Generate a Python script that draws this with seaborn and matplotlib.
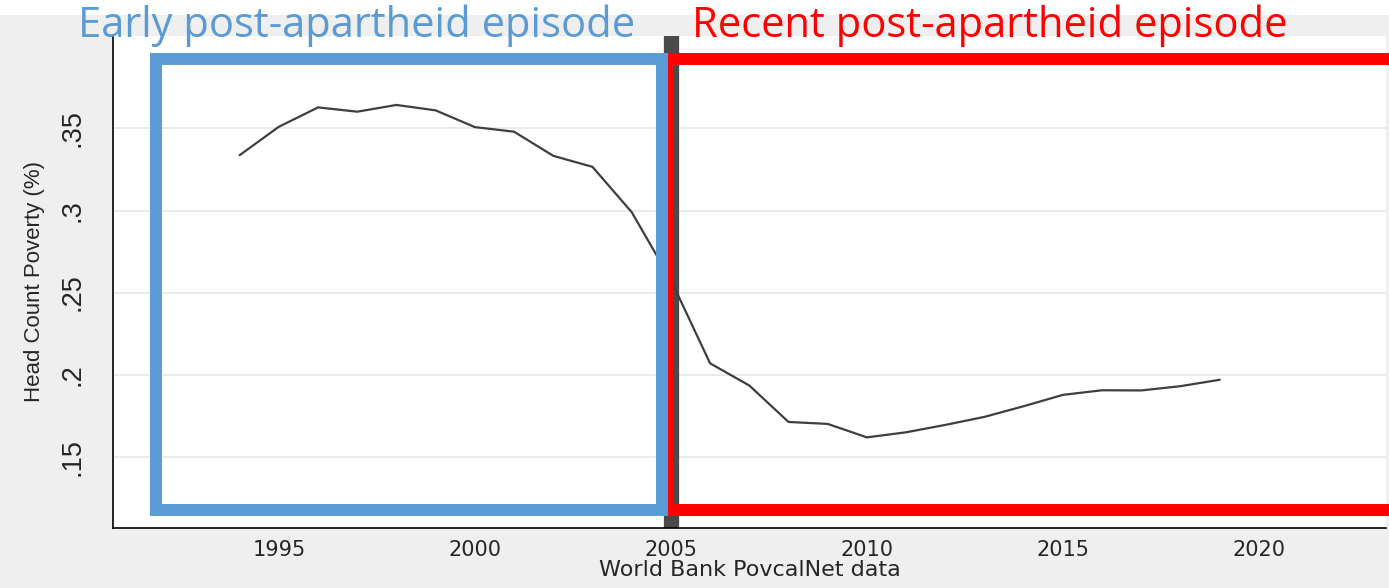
import matplotlib
matplotlib.use('Agg')
import matplotlib.pyplot as plt
from matplotlib.patches import Rectangle
import seaborn as sns

# Data
years = list(range(1994, 2020))
poverty = [0.3337, 0.3510, 0.3628, 0.3602, 0.3643, 0.3610, 0.3508, 0.3480,
           0.3333, 0.3266, 0.2990, 0.2577, 0.2069, 0.1934, 0.1712, 0.1700,
           0.1618, 0.1649, 0.1694, 0.1743, 0.1808, 0.1877, 0.1905, 0.1904,
           0.1930, 0.1969]
ytick_vals = [0.15, 0.20, 0.25, 0.30, 0.35]
ytick_labels = ['.15', '.2', '.25', '.3', '.35']
xtick_vals = [1995, 2000, 2005, 2010, 2015, 2020]
split_year = 2005

sns.set_style('white')
plt.rcParams['font.family'] = ['DejaVu Sans']

fig = plt.figure(figsize=(13.89, 5.88), dpi=100, facecolor='#efefef')
# white strip at the very top (slide background)
fig.patches.append(Rectangle((0, 1 - 15 / 588), 1, 15 / 588, transform=fig.transFigure,
                             facecolor='white', edgecolor='none', zorder=0))

ax = fig.add_axes([113 / 1389, 1 - 528 / 588, (1386 - 113) / 1389, (528 - 36) / 588])
ax.set_facecolor('white')

# grid
for v in ytick_vals:
    ax.axhline(v, color='#eaeaea', lw=1.4, zorder=0)

# dark vertical marker at the split year
ax.axvline(split_year, color='#4a4a4a', lw=11, zorder=1)

sns.lineplot(x=years, y=poverty, color='#3f3f3f', lw=1.6, ax=ax, zorder=2)

ax.set_xlim(1990.77, 2023.24)
ax.set_ylim(0.1066, 0.4063)

ax.set_yticks(ytick_vals)
ax.set_yticklabels(ytick_labels, rotation=90, va='center',
                   family='Liberation Sans', fontsize=19.5)
ax.set_xticks(xtick_vals)
ax.set_xticklabels([str(x) for x in xtick_vals], fontsize=15)
ax.tick_params(axis='y', length=10, width=1, color='#333333', pad=10)
ax.tick_params(axis='x', length=6, width=1, color='#333333', pad=3)

for s in ['top', 'right']:
    ax.spines[s].set_visible(False)
for s in ['left', 'bottom']:
    ax.spines[s].set_color('black')
    ax.spines[s].set_linewidth(1.2)

ax.set_ylabel('Head Count Poverty (%)', family='Liberation Sans', fontsize=16, labelpad=10)
ax.set_xlabel('World Bank PovcalNet data', fontsize=16, labelpad=0)

# episode boxes
red_box = Rectangle((2004.93, 0.1176), 2023.6 - 2004.93, 0.3922 - 0.1176,
                    fill=False, edgecolor='#ff0000', lw=8.6, joinstyle='miter',
                    clip_on=False, zorder=3)
blue_box = Rectangle((1991.87, 0.1176), 2004.78 - 1991.87, 0.3922 - 0.1176,
                     fill=False, edgecolor='#5b9bd5', lw=8.6, joinstyle='miter',
                     clip_on=False, zorder=4)
ax.add_patch(red_box)
ax.add_patch(blue_box)

fig.text(78 / 1389, 1 - 26 / 588, 'Early post-apartheid episode', color='#5b9bd5',
         family='Open Sans', fontsize=30, va='center', ha='left')
fig.text(692 / 1389, 1 - 26 / 588, 'Recent post-apartheid episode', color='#ff0000',
         family='Open Sans', fontsize=30, va='center', ha='left')

fig.savefig('out.png', dpi=100, facecolor=fig.get_facecolor())
